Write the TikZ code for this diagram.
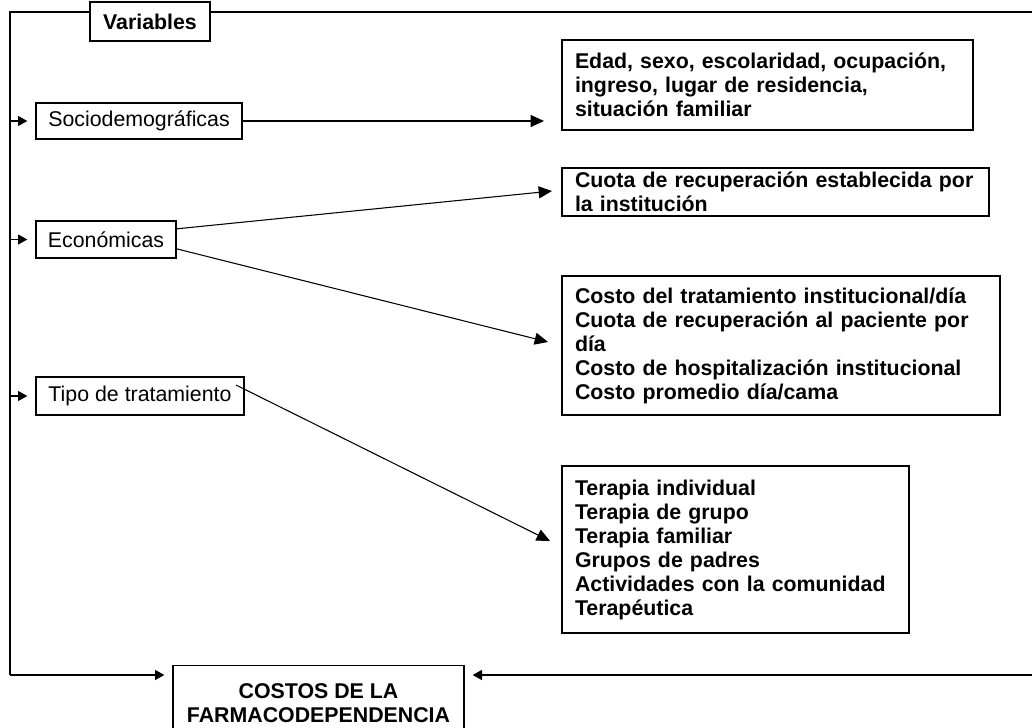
\documentclass[tikz,border=0pt]{standalone}
\usepackage{fontspec}
\setmainfont{Liberation Sans}
\usetikzlibrary{arrows.meta}
\begin{document}
\begin{tikzpicture}[x=0.75pt,y=-0.75pt,
  every node/.style={font=\fontsize{16pt}{18pt}\selectfont},
  box/.style={draw,line width=1pt,fill=white,rectangle},
  leftbox/.style={box,inner sep=0pt},
  infobox/.style={box,inner xsep=9.75pt,inner ysep=0pt,align=left,font=\fontsize{16pt}{18pt}\selectfont\bfseries},
  conn/.style={line width=0.8pt,-{Triangle[length=10pt,width=9pt]}},
  small/.style={line width=0.8pt,-{Triangle[length=7pt,width=7.5pt]},shorten >=6pt},
  frame/.style={line width=1.1pt}]
\useasboundingbox (0,0) rectangle (1032,728);
\clip (0,0) rectangle (1032,728);
\fill[white] (0,0) rectangle (1032,728);
% frame coordinates
\coordinate (fTL) at (10,12);
\coordinate (fTR) at (1050,12);
\coordinate (fBL) at (10,675);
\coordinate (fBR) at (1050,675);
\draw[frame] (fTR) -- (fTL) -- (fBL);
% nodes
\node[box,font=\fontsize{16pt}{18pt}\selectfont\bfseries,minimum width=90pt,minimum height=29.25pt,inner sep=0pt] (var) at (150,21.5) {Variables};
\node[leftbox,minimum width=154.5pt,minimum height=27pt] (socio) at (139,121) {Sociodemográficas};
\node[leftbox,minimum width=105pt,minimum height=27.75pt] (econ) at (106,239.5) {Económicas};
\node[leftbox,minimum width=156pt,minimum height=28.5pt] (tipo) at (140,396) {Tipo de tratamiento};
\node[infobox,text width=288.75pt,minimum height=67.5pt] (b1) at (767.5,85) {Edad, sexo, escolaridad, ocupación,\\ingreso, lugar de residencia,\\situación familiar};
\node[infobox,text width=300.75pt,minimum height=36pt] (b2) at (775.5,192) {Cuota de recuperación establecida por\\la institución};
\node[infobox,text width=309pt,minimum height=104.25pt] (b3) at (781,345.5) {Costo del tratamiento institucional/día\\Cuota de recuperación al paciente por\\día\\Costo de hospitalización institucional\\Costo promedio día/cama};
\node[infobox,text width=240.75pt,minimum height=125.25pt] (b4) at (735.5,549.5) {Terapia individual\\Terapia de grupo\\Terapia familiar\\Grupos de padres\\Actividades con la comunidad\\Terapéutica};
\node[box,font=\fontsize{16pt}{18.5pt}\selectfont\bfseries,align=center,minimum width=218.25pt,minimum height=56pt,inner sep=0pt] (costos) at (318.5,703) {COSTOS DE LA\\FARMACODEPENDENCIA};
% tips of the connectors
\coordinate (t2) at (552,191);
\coordinate (t3) at (548,342);
\coordinate (t4) at (550,541);
\coordinate (s4) at (236,385);
% connectors
\draw[conn,shorten >=13pt] (socio.east) -- (socio.east -| b1.west);
\draw[conn] ([yshift=8pt]econ.east) -- (t2);
\draw[conn] ([yshift=-7pt]econ.east) -- (t3);
\draw[conn] (s4) -- (t4);
\draw[small] (fTL |- socio.west) -- (socio.west);
\draw[small] (fTL |- econ.west) -- (econ.west);
\draw[small] (fTL |- tipo.west) -- (tipo.west);
\draw[frame,-{Triangle[length=7pt,width=7.5pt]},shorten >=6pt] (fBL) -- (fBL -| costos.west);
\draw[frame,-{Triangle[length=7pt,width=7.5pt]},shorten >=6pt] (fBR) -- (fBR -| costos.east);
\end{tikzpicture}
\end{document}
